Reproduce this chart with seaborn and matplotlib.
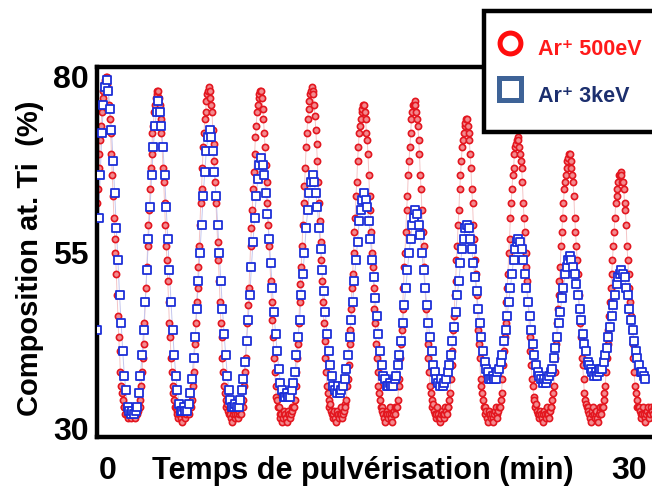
import numpy as np
import matplotlib
matplotlib.use("Agg")
import matplotlib.pyplot as plt
from matplotlib.lines import Line2D
import seaborn as sns

# Ar+ 500eV : 64 samples per period of ~2.845 min
red_step = 2.845 / 64
red_pct = [
    62, 64, 67, 69, 71, 73, 75, 77, 78, 79, 79.5,
    # period 1
    80, 80, 79, 78, 76, 74, 72, 69, 66, 63, 60, 57, 55, 52, 49, 46, 43, 41, 38, 36, 35, 34, 33,
    33, 32, 33, 32, 31.5, 32, 33, 32, 31.5, 32, 32.5, 33, 32, 31.5, 32, 33, 32, 32.5, 33,
    33, 34, 36, 38, 40, 42, 45, 48, 50, 53, 56, 59, 61, 64, 67, 69, 72, 73, 75, 76, 77, 77.5,
    # period 2
    78, 78, 77, 76, 74, 72, 70, 67, 65, 62, 59, 56, 54, 51, 48, 45, 43, 40, 38, 36, 35, 34, 33,
    33, 32.5, 32, 31.5, 32, 33, 32, 31.5, 31, 32, 32.5, 32, 31.5, 32, 33, 32.5, 32, 33, 33.5,
    33, 34, 36, 38, 40, 42, 45, 48, 50, 53, 56, 59, 62, 64, 67, 70, 72, 74, 75, 76.5, 77.5, 78,
    # period 3
    78.5, 78, 77, 76, 75, 72.5, 70.5, 68, 65, 62, 59, 56.5, 54, 51, 48, 45, 43, 40, 38, 36, 35, 34, 33,
    33.5, 32.5, 32, 33, 32, 31.5, 31, 32, 32.5, 31.5, 32, 33, 32, 31.5, 32, 32.5, 33, 32, 33,
    33, 34, 36, 38, 40, 42.5, 45, 47.5, 50, 53, 56, 58.5, 61, 64, 66.5, 69, 71.5, 73, 75, 76, 77, 77.5,
    # period 4
    78, 78, 77, 75.5, 74, 72, 70, 67.5, 65, 62, 59, 56, 53.5, 51, 48, 45.5, 43, 40, 38, 36, 34.5, 34, 33,
    33, 32, 31.5, 32, 31, 31.5, 32, 32.5, 32, 31.5, 31, 32, 32.5, 32, 31.5, 32, 33, 32.5, 33,
    33, 34, 36, 38, 40, 42, 45, 48, 50.5, 53, 56, 59, 62, 64.5, 67, 70, 72, 74, 75.5, 76.5, 77.5, 78,
    # period 5
    78.5, 78, 77.5, 76, 74.5, 72.5, 70.5, 68, 65, 62, 59.5, 56.5, 54, 51, 48, 45, 42.5, 40, 38, 36, 35, 34, 33,
    33.5, 32.5, 32, 31.5, 32, 32.5, 31.5, 31, 32, 32.5, 32, 31.5, 32, 33, 32, 31.5, 32, 32.5, 33.5,
    33, 34, 36, 37, 39, 42, 44, 47, 50, 52, 55, 58, 60, 63, 65, 68, 70, 72, 73, 74, 75, 75.5,
    # period 6
    76, 76, 75, 74, 72, 71, 69, 66, 63, 61, 58, 55, 53, 50, 47, 45, 42, 40, 38, 36, 35, 34, 33,
    33, 32.5, 32, 31.5, 31, 32, 32.5, 32, 31.5, 32, 33, 32, 31.5, 31, 32, 32.5, 32, 33, 33,
    33, 34, 36, 37, 40, 42, 44, 47, 50, 53, 55, 58, 61, 63, 66, 68, 70, 72, 74, 75, 76, 76,
    # period 7
    76.5, 76, 75, 74, 73, 71, 69, 66, 64, 61, 58, 56, 53, 50, 47, 45, 42, 40, 38, 36, 35, 34, 33,
    33.5, 32.5, 32, 31.5, 32, 33, 32, 31.5, 31, 31.5, 32, 32.5, 32, 31.5, 32, 33, 32.5, 32, 33,
    33, 34, 35, 37, 39, 41, 44, 46, 49, 51, 54, 56, 59, 61, 64, 66, 68, 70, 71, 72, 73, 73.5,
    # period 8
    74, 74, 73, 72, 71, 69, 67, 64, 62, 59, 57, 54, 52, 49, 47, 44, 42, 40, 37, 36, 35, 34, 33,
    33, 32, 32.5, 31.5, 31, 32, 32.5, 32, 31.5, 32, 31.5, 31, 32, 32.5, 33, 32, 31.5, 32.5, 33,
    33, 34, 35, 37, 39, 41, 43, 45, 48, 50, 52, 55, 57, 60, 62, 64, 66, 67, 69, 70, 70.5, 71,
    # period 9
    71.5, 71, 70, 69, 68, 67, 65, 62, 60, 58, 55, 53, 51, 48, 46, 43, 41, 39, 37, 36, 34.5, 34, 33,
    33.5, 32.5, 32, 31.5, 32, 32.5, 32, 31.5, 31, 32, 32.5, 32, 31.5, 32, 33, 32, 31.5, 32.5, 33,
    33, 34, 35, 36, 38, 40, 42, 45, 47, 49, 51, 53, 56, 58, 60, 62, 64, 65, 66, 67, 68, 68.5,
    # period 10
    69, 69, 68, 67, 66, 65, 63, 60, 58, 56, 54, 52, 49, 47, 45, 43, 40, 39, 37, 35, 34, 33.5, 33,
    33, 32.5, 32, 31.5, 31, 32, 32.5, 33, 32, 31.5, 32, 32.5, 31.5, 31, 32, 32.5, 33, 32, 33,
    33, 34, 35, 36, 38, 40, 42, 44, 46, 48, 50, 52, 54, 56, 58, 60, 62, 63, 64, 65, 66, 66,
    # period 11
    66.5, 66, 65, 65, 64, 62, 61, 59, 56, 54, 52, 50, 48, 46, 44, 42, 40, 38, 36, 35, 34, 33, 33,
    33, 32.5, 32, 31.5, 32, 33, 32, 31.5, 31, 32, 32.5, 33, 32, 31.5, 32, 33, 32.5, 32, 33,
]

# Ar+ 3keV : 32 samples per period
blue_step = 2.845 / 32
blue_pct = [
    44, 60, 66, 72, 76, 78.5,
    79.5, 78, 75.5, 72.5, 68, 63.5, 58.5, 54, 49, 45, 41, 37.5, 35.5,
    33, 32.5, 32, 32.5, 32, 32.5, 33,
    35, 37.5, 40.5, 44, 48, 52.5, 57, 61.5, 66, 70, 73, 75,
    76.5, 75, 73, 70, 66, 61.5, 57, 52.5, 48, 44, 40.5, 37.5, 35.5,
    33.5, 32.5, 32.5, 33, 32.5, 32.5, 33.5,
    35, 37, 40, 43, 47, 51, 55, 59, 63, 66.5, 69.5, 71.5,
    72.5, 71.5, 69.5, 66.5, 63, 59, 55, 51, 47, 43.5, 40.5, 37.5, 35.5,
    34, 33, 33, 33.5, 33, 33, 34,
    35.5, 37, 39.5, 42.5, 45.5, 49, 53, 56.5, 60, 63, 65.5, 67.5,
    68.5, 67.5, 66, 63.5, 60.5, 57, 53.5, 50, 46.5, 43.5, 41, 38.5, 36.5,
    35.5, 34.5, 34.5, 35, 34.5, 34.5, 35.5,
    36.5, 38, 40.5, 43, 45.5, 49, 52, 55, 58.5, 61, 63.5, 65,
    66, 65, 63.5, 61.5, 58.5, 55.5, 52.5, 49.5, 46.5, 43.5, 41, 39, 37.5,
    36, 35.5, 35, 36, 35, 35.5, 36,
    37, 38.5, 40.5, 43, 45.5, 48, 51, 54, 56.5, 59.5, 61, 62.5,
    63.5, 62.5, 61.5, 59.5, 57, 54, 51.5, 48.5, 46, 43.5, 41, 39, 37.5,
    37, 36, 36, 36.5, 36, 36, 37,
    37.5, 39, 40.5, 42.5, 45, 47.5, 50, 52.5, 55, 57, 59, 60,
    61, 60.5, 59, 57.5, 55, 52.5, 50, 47.5, 45, 43, 41, 39, 38,
    37, 36.5, 36, 37, 36, 36.5, 37,
    38, 39, 40.5, 42.5, 44.5, 46.5, 49, 51, 53.5, 55.5, 57, 58.5,
    59, 58.5, 57, 55.5, 53.5, 51.5, 49.5, 47, 45, 43, 41, 39.5, 38.5,
    38, 37, 37, 37.5, 37, 37, 38,
    38.5, 39.5, 40.5, 42.5, 44, 46, 48, 50, 52, 54, 55.5, 56.5,
    57, 56.5, 55.5, 54, 52, 50, 48, 46, 44, 42, 40.5, 39, 38,
    37.5, 37, 36.5, 37, 36.5, 37, 37.5,
    38, 38.5, 40, 41.5, 43, 45, 46.5, 48.5, 50, 52, 53, 54,
    54.5, 54, 53, 52, 50.5, 49, 47, 45.5, 43.5, 42, 41, 39.5, 39,
    38.5, 38, 37.5, 38, 37.5, 38, 38.5,
    38.5, 39.5, 40.5, 41.5, 43, 44.5, 46, 47.5, 49, 50.5, 51.5, 52,
    52.5, 52, 51.5, 50, 49, 47, 45.5, 44, 42.5, 41, 40, 39, 38,
    38, 37.5, 37,
]

red_t = np.arange(len(red_pct)) * red_step
blue_t = np.arange(len(blue_pct)) * blue_step

y_ticks = [30, 55, 80]
x_ticks = [0.6, 29.4]
x_ticklabels = ["0", "30"]
legend_labels = ["Ar\u207a 500eV", "Ar\u207a 3keV"]

sns.set_style("white")
plt.rcParams["font.family"] = ["Liberation Sans", "DejaVu Sans"]
plt.rcParams["font.weight"] = "bold"
plt.rcParams["text.color"] = "black"
plt.rcParams["axes.labelcolor"] = "black"
plt.rcParams["xtick.color"] = "black"
plt.rcParams["ytick.color"] = "black"

fig = plt.figure(figsize=(6.52, 4.92), dpi=100)
ax = fig.add_axes([97 / 652, 55 / 492, 597 / 652, 370 / 492])

# thin guide lines under the points
sns.lineplot(x=red_t, y=red_pct, ax=ax, color="#f4c4c6", lw=0.7, sort=False, zorder=1)
sns.lineplot(x=blue_t, y=blue_pct, ax=ax, color="#c4c6ee", lw=0.7, sort=False, zorder=1)

sns.scatterplot(x=red_t, y=red_pct, ax=ax, marker="o", s=20, color="#f28b8f",
                edgecolor="#e3161f", linewidth=1.2, zorder=2)
sns.scatterplot(x=blue_t, y=blue_pct, ax=ax, marker="s", s=26, color="white",
                edgecolor="#1c2fd8", linewidth=1.3, zorder=3)

ax.set_xlim(0, 33)
ax.set_ylim(28.8, 81.4)
ax.set_yticks(y_ticks)
ax.set_yticklabels([str(v) for v in y_ticks], fontsize=23, fontweight="bold")
ax.set_xticks(x_ticks)
ax.set_xticklabels(x_ticklabels, fontsize=23, fontweight="bold")
ax.tick_params(axis="both", length=0)
ax.tick_params(axis="y", pad=6)
ax.tick_params(axis="x", pad=14)

for side in ["left", "bottom", "top", "right"]:
    ax.spines[side].set_linewidth(3.2)
    ax.spines[side].set_color("black")

ax.set_xlabel("Temps de pulvérisation (min)", fontsize=22, fontweight="bold", va="center")
ax.xaxis.set_label_coords(0.446, -0.092)
ax.set_ylabel("Composition at. Ti  (%)", fontsize=21, fontweight="bold", va="center")
ax.yaxis.set_label_coords(-0.112, 0.484)

handles = [
    Line2D([], [], ls="", marker="o", ms=15, mfc="white", mec="#ff0d0d", mew=3.6),
    Line2D([], [], ls="", marker="s", ms=15.5, mfc="white", mec="#3e6397", mew=3.6),
]
leg = fig.legend(handles, legend_labels, loc="upper left", bbox_to_anchor=(0.742, 0.978),
                 prop={"size": 15.5, "weight": "bold"}, frameon=True, fancybox=False,
                 borderpad=0.9, labelspacing=0.5, handletextpad=1.0, handlelength=0.6,
                 handleheight=2.2, borderaxespad=0)
leg.get_frame().set_edgecolor("black")
leg.get_frame().set_linewidth(3.2)
leg.get_frame().set_facecolor("white")
leg.get_frame().set_alpha(1)
for txt, c in zip(leg.get_texts(), ["#ff1a1a", "#1c2f6e"]):
    txt.set_color(c)

fig.savefig("out.png", dpi=100)
